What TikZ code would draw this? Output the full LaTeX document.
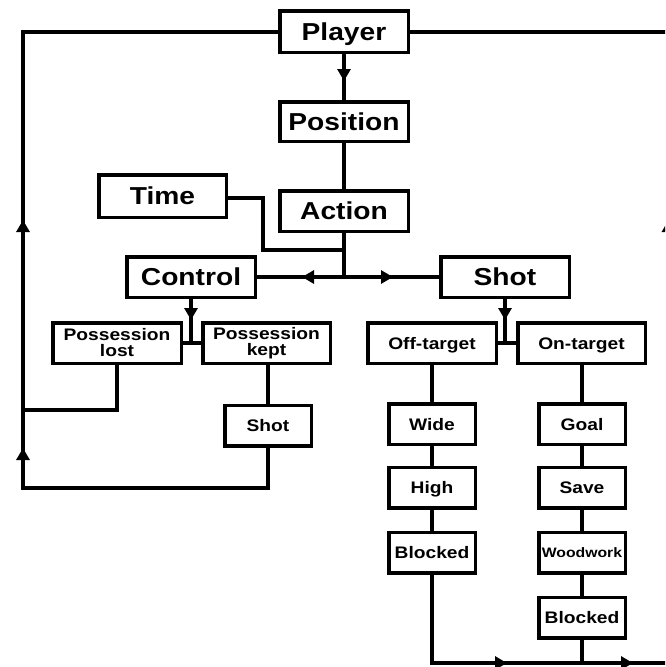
\documentclass[tikz,border=0pt]{standalone}
\usepackage{fontspec}
\setmainfont{Liberation Sans}[FakeStretch=1.15]
\usetikzlibrary{arrows.meta}
\begin{document}
\begin{tikzpicture}[x=1pt,y=-1pt,
  line width=3.5pt,
  boxbase/.style={draw, inner sep=0pt, align=center},
  box/.style={boxbase, text height=12pt, text depth=0pt,
    font=\bfseries\fontsize{16.7}{15.7}\selectfont},
  twoline/.style={boxbase, font=\bfseries\fontsize{16.7}{16}\selectfont},
  bigbox/.style={boxbase, text height=17.5pt, text depth=0pt,
    font=\bfseries\fontsize{24.5}{26}\selectfont},
  head/.style={-{Triangle[length=12pt,width=13pt]}},
  wide/.style={minimum width=128.5pt, minimum height=40.5pt},
  narrow/.style={minimum width=86.5pt, minimum height=40.5pt},
]
\fill[white] (0,0) rectangle (665,667);
\useasboundingbox (0,0) rectangle (665,667);
\clip (0,0) rectangle (665,667);

% upper chain
\node[bigbox, wide, minimum height=41.5pt] (player)   at (344,31.5) {Player};
\node[bigbox, wide, minimum height=39.5pt] (position) at (344,121.5) {Position};
\node[bigbox, wide] (action)   at (344,211) {Action};
\node[bigbox, wide, minimum width=127.5pt, minimum height=42.5pt] (time) at (162.5,196) {Time};
\node[bigbox, wide] (control)  at (191,277) {Control};
\node[bigbox, wide] (shotA)    at (505,277) {Shot};

% second level
\node[twoline, wide] (lost) at (117,343) {Possession\\lost};
\node[twoline, wide, minimum width=127.5pt] (kept) at (266.5,343) {Possession\\kept};
\node[box, wide] (off) at (432,343) {Off-target};
\node[box, wide, minimum width=127.5pt] (on) at (581.5,343) {On-target};

% lower boxes
\node[box, narrow] (shotB) at (268,425.5) {Shot};
\node[box, narrow] (wideN) at (432,424) {Wide};
\node[box, narrow] (high)  at (432,487.5) {High};
\node[box, narrow] (blkL)  at (432,552.5) {Blocked};
\node[box, narrow] (goal)  at (582,424) {Goal};
\node[box, narrow] (save)  at (582,487.5) {Save};
\node[box, narrow, text height=9.8pt, font=\bfseries\fontsize{13.7}{15}\selectfont] (wood) at (582,552.5) {Woodwork};
\node[box, narrow] (blkR)  at (582,617.5) {Blocked};

% junction and bend points
\coordinate (j)   at (344,277);
\coordinate (tj)  at (344,250);
\coordinate (cj)  at (191,343);
\coordinate (sj)  at (505,343);
\coordinate (lx)  at (23,410);
\coordinate (bl)  at (23,488);
\coordinate (tl)  at (23,32);
\coordinate (br)  at (668.5,663);
\coordinate (tr)  at (668.5,32);

% player -> position -> action
\draw (player.south) -- (position.north);
\draw (position.south) -- (action.north);
\draw (action.south) -- (j);
\draw (time.east |- 0,198) -- (263,198) |- (tj);

% action splits into control and shot
\draw (control.east) -- (shotA.west);

% control -> possession, shot -> target
\draw (control.south) -- (cj);
\draw (lost.east) -- (kept.west);
\draw (shotA.south) -- (sj);
\draw (off.east) -- (on.west);

% possession paths back to the player
\draw (lost.south) |- (lx);
\draw (kept.south -| shotB.north) -- (shotB.north);
\draw (shotB.south) |- (bl) -- (tl) -- (player.west |- tl);
\draw (player.east |- tr) -- (tr);

% shot outcomes
\draw (off.south) -- (wideN.north);
\draw (wideN.south) -- (high.north);
\draw (high.south) -- (blkL.north);
\draw (on.south -| goal.north) -- (goal.north);
\draw (goal.south) -- (save.north);
\draw (save.south) -- (wood.north);
\draw (wood.south) -- (blkR.north);
\draw (blkR.south) -- (582,663);
\draw (blkL.south) |- (br) -- (tr);

% arrowheads set on the connectors
\draw[head] (344,70) -- (344,81);
\draw[head] (313,277) -- (302,277);
\draw[head] (382,277) -- (393,277);
\draw[head] (191,309) -- (191,320);
\draw[head] (505,309) -- (505,320);
\draw[head] (23,459) -- (23,448);
\draw[head] (23,231) -- (23,220);
\draw[head] (496,663) -- (507,663);
\draw[head] (622,663) -- (633,663);
\draw[head] (668.5,231) -- (668.5,220);
\end{tikzpicture}
\end{document}
